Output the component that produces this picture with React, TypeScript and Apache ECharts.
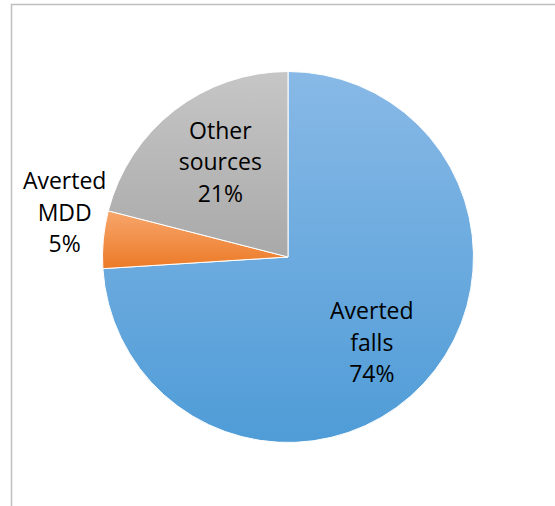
import React, { useEffect, useRef } from "react";
import * as echarts from "echarts";

const categories = ["Averted\nfalls", "Averted\nMDD", "Other\nsources"];
const values = [74, 5, 21];
const topColors = ["#88b9e6", "#f7a66c", "#c6c6c6"];
const bottomColors = ["#4f9cd7", "#ec7a27", "#a9a9a9"];
const labelOffsets: [number, number][] = [
  [14, 19],
  [-128, -36],
  [-9, -20],
];

export default function App() {
  const ref = useRef<HTMLDivElement>(null);
  useEffect(() => {
    document.body.style.margin = "0";
    if (!ref.current) return;
    const chart = echarts.init(ref.current, undefined, { renderer: "svg" });
    chart.setOption({
      animation: false,
      backgroundColor: "#ffffff",
      graphic: [
        {
          type: "rect",
          shape: { x: 11.5, y: 4.5, width: 600, height: 560 },
          style: { fill: "none", stroke: "#bfbfbf", lineWidth: 1.5 },
          silent: true,
          z: -1,
        },
      ],
      series: [
        {
          type: "pie",
          center: [288, 257],
          radius: [0, 185.5],
          startAngle: 90,
          clockwise: true,
          avoidLabelOverlap: false,
          labelLine: { show: false },
          itemStyle: { borderColor: "#ffffff", borderWidth: 1 },
          data: categories.map((name, i) => ({
            name,
            value: values[i],
            itemStyle: {
              color: new echarts.graphic.LinearGradient(0, 0, 0, 1, [
                { offset: 0, color: topColors[i] },
                { offset: 1, color: bottomColors[i] },
              ]),
            },
            label: {
              show: true,
              position: "inside",
              offset: labelOffsets[i],
              formatter: () => `${name}\n${values[i]}%`,
              color: "#000000",
              fontFamily: "Open Sans",
              fontSize: 23,
              lineHeight: 31.5,
              align: "center",
            },
          })),
        },
      ],
    });
    return () => chart.dispose();
  }, []);
  return <div ref={ref} style={{ width: 555, height: 506 }} />;
}
